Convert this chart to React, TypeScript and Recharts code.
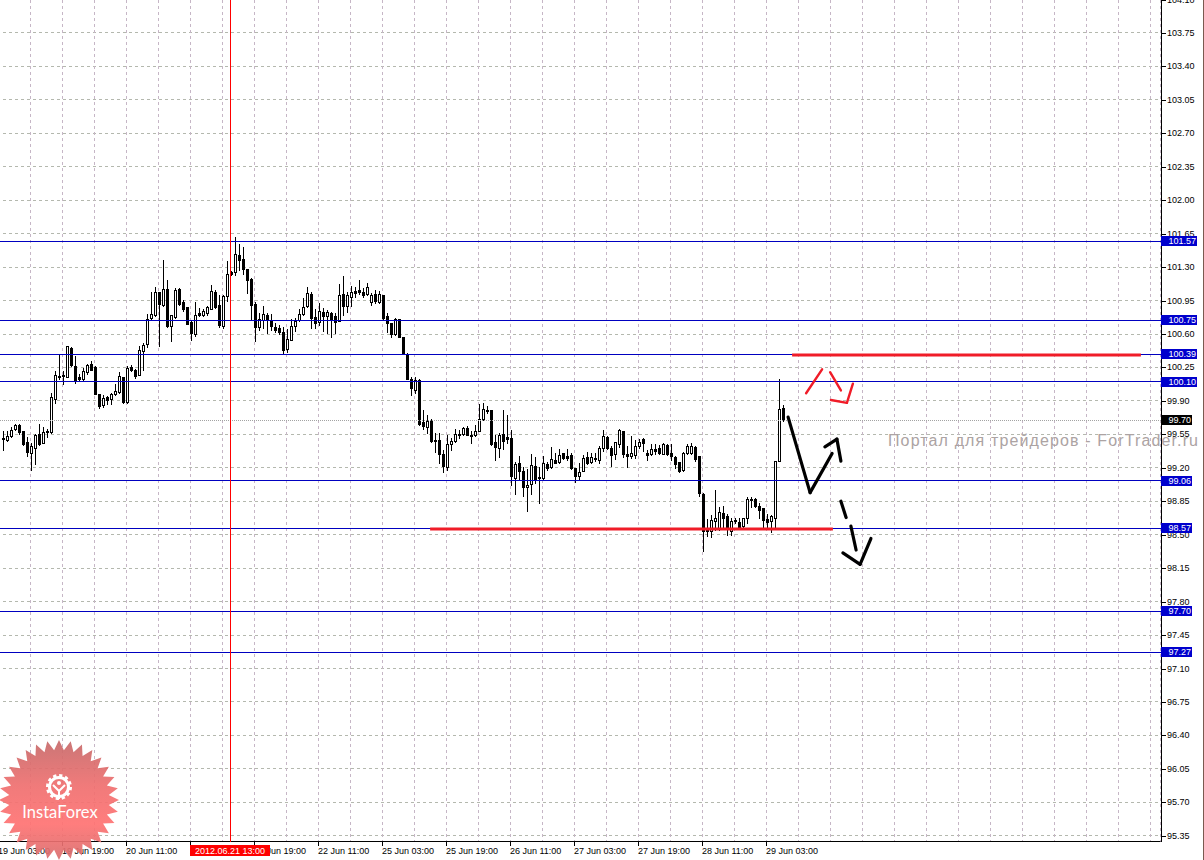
import React from "react";
import { ComposedChart, Bar, XAxis, YAxis, CartesianGrid, ReferenceLine } from "recharts";

// one price per hourly bar, oldest first (ten to a row)
const opens = [
  99.51,99.49,99.53,99.61,99.65,99.58,99.47,99.36,99.41,99.55,
  99.46,99.58,99.57,99.92,100.16,100.17,100.15,100.45,100.27,100.15,
  100.13,100.20,100.29,100.25,99.97,99.86,99.94,99.92,99.97,99.99,
  100.15,99.89,100.25,100.22,100.17,100.42,100.50,100.77,100.80,101.04,
  100.90,101.07,100.68,100.78,101.07,100.94,100.88,100.73,100.60,100.82,
  100.80,100.82,100.86,101.04,100.90,100.68,101.00,101.25,101.25,101.43,
  101.38,101.28,101.18,100.91,100.67,100.75,100.80,100.75,100.67,100.66,
  100.62,100.44,100.54,100.68,100.75,100.81,100.89,101.02,100.78,100.73,
  100.83,100.79,100.82,100.79,100.74,101.02,100.89,100.99,101.05,101.06,
  101.04,101.02,100.93,101.02,100.93,101.01,100.79,100.71,100.60,100.76,
  100.57,100.39,100.13,100.01,100.12,99.68,99.63,99.70,99.49,99.49,
  99.34,99.21,99.45,99.48,99.55,99.55,99.62,99.54,99.54,99.59,
  99.71,99.81,99.80,99.47,99.41,99.55,99.52,99.51,99.09,99.25,
  99.17,99.00,99.03,99.22,99.10,99.09,99.24,99.21,99.28,99.26,
  99.35,99.32,99.33,99.20,99.11,99.17,99.31,99.26,99.30,99.28,
  99.41,99.52,99.41,99.34,99.45,99.58,99.34,99.32,99.33,99.43,
  99.50,99.35,99.34,99.40,99.41,99.34,99.44,99.35,99.31,99.26,
  99.18,99.35,99.36,99.42,99.32,98.93,98.57,98.54,98.64,98.57,
  98.73,98.70,98.54,98.65,98.63,98.59,98.68,98.87,98.87,98.80,
  98.78,98.66,98.64,98.68,99.27,99.83,
];
const highs = [
  99.58,99.58,99.63,99.66,99.66,99.59,99.52,99.46,99.55,99.66,
  99.63,99.61,99.98,100.21,100.38,100.21,100.47,100.46,100.37,100.18,
  100.24,100.29,100.32,100.27,99.97,99.96,99.95,99.98,100.08,100.20,
  100.15,100.27,100.28,100.23,100.47,100.51,100.81,101.04,101.09,101.04,
  101.37,101.17,100.80,101.08,101.08,100.96,100.88,100.74,100.94,100.87,
  100.86,100.89,101.11,101.06,101.01,101.01,101.36,101.26,101.61,101.54,
  101.51,101.28,101.19,100.94,100.82,100.89,100.82,100.81,100.71,100.69,
  100.67,100.65,100.76,100.77,100.86,100.98,101.09,101.04,100.86,100.92,
  100.87,100.85,100.83,100.82,101.12,101.21,101.04,101.10,101.09,101.17,
  101.08,101.13,101.03,101.06,101.05,101.01,100.82,100.71,100.77,100.76,
  100.57,100.40,100.15,100.15,100.13,99.80,99.75,99.71,99.56,99.56,
  99.39,99.54,99.51,99.61,99.60,99.63,99.64,99.59,99.65,99.87,
  99.88,99.85,99.81,99.54,99.56,99.81,99.75,99.60,99.26,99.32,
  99.21,99.19,99.34,99.31,99.21,99.32,99.26,99.42,99.35,99.40,
  99.36,99.40,99.36,99.20,99.25,99.33,99.37,99.36,99.35,99.43,
  99.60,99.53,99.43,99.47,99.61,99.59,99.43,99.53,99.49,99.50,
  99.51,99.39,99.45,99.45,99.44,99.46,99.45,99.45,99.32,99.26,
  99.37,99.45,99.46,99.43,99.32,98.94,98.66,98.71,98.97,98.79,
  98.80,98.72,98.67,98.67,98.67,98.68,98.89,98.89,98.88,98.83,
  98.78,98.72,98.71,99.27,100.13,99.86,
];
const lows = [
  99.39,99.48,99.52,99.60,99.55,99.44,99.32,99.18,99.24,99.44,
  99.46,99.52,99.56,99.88,100.13,100.08,100.15,100.27,100.09,100.11,
  100.11,100.18,100.22,99.97,99.83,99.84,99.87,99.87,99.96,99.98,
  99.88,99.88,100.21,100.14,100.17,100.22,100.46,100.76,100.79,100.47,
  100.89,100.67,100.53,100.77,100.90,100.84,100.70,100.54,100.58,100.79,
  100.79,100.80,100.86,100.87,100.67,100.66,100.95,101.22,101.22,101.27,
  101.23,101.03,100.75,100.53,100.64,100.66,100.61,100.64,100.62,100.60,
  100.39,100.41,100.54,100.63,100.74,100.80,100.88,100.66,100.66,100.69,
  100.63,100.61,100.57,100.61,100.74,100.80,100.83,100.89,100.99,101.02,
  100.99,101.01,100.90,100.92,100.92,100.76,100.62,100.57,100.59,100.57,
  100.39,100.13,99.96,99.98,99.65,99.61,99.56,99.47,99.37,99.25,
  99.16,99.18,99.39,99.47,99.51,99.54,99.54,99.46,99.53,99.58,
  99.70,99.77,99.44,99.28,99.31,99.40,99.46,99.02,98.93,99.07,
  98.90,98.75,98.93,99.04,98.83,99.08,99.18,99.20,99.25,99.25,
  99.29,99.28,99.19,99.05,99.07,99.17,99.24,99.25,99.27,99.25,
  99.38,99.40,99.22,99.29,99.42,99.31,99.21,99.30,99.30,99.41,
  99.38,99.28,99.33,99.34,99.34,99.34,99.33,99.28,99.20,99.16,
  99.17,99.34,99.34,99.27,98.91,98.33,98.49,98.48,98.55,98.55,
  98.57,98.50,98.50,98.62,98.57,98.58,98.62,98.79,98.79,98.67,
  98.58,98.57,98.53,98.57,99.27,99.69,
];
const closes = [
  99.50,99.53,99.60,99.65,99.57,99.45,99.37,99.43,99.54,99.45,
  99.57,99.57,99.94,100.17,100.15,100.16,100.47,100.28,100.11,100.13,
  100.21,100.28,100.22,99.97,99.85,99.93,99.91,99.97,100.00,100.16,
  99.89,100.24,100.22,100.16,100.43,100.49,100.76,100.81,101.04,100.91,
  101.07,100.68,100.80,101.06,100.91,100.86,100.70,100.61,100.80,100.80,
  100.84,100.88,101.05,100.88,100.69,101.00,101.23,101.23,101.44,101.37,
  101.28,101.16,100.90,100.67,100.76,100.81,100.75,100.68,100.64,100.62,
  100.43,100.55,100.68,100.74,100.81,100.88,101.03,100.77,100.72,100.84,
  100.79,100.83,100.76,100.73,101.01,100.89,101.01,101.04,101.03,101.04,
  101.01,101.09,101.01,100.95,101.02,100.77,100.72,100.60,100.76,100.57,
  100.39,100.13,100.03,100.12,99.66,99.64,99.69,99.48,99.48,99.34,
  99.22,99.45,99.48,99.55,99.54,99.62,99.54,99.53,99.58,99.71,
  99.82,99.79,99.45,99.42,99.54,99.48,99.50,99.11,99.24,99.17,
  99.00,99.02,99.23,99.07,99.09,99.25,99.20,99.29,99.25,99.33,
  99.30,99.30,99.20,99.11,99.16,99.30,99.25,99.31,99.29,99.41,
  99.53,99.41,99.33,99.47,99.60,99.34,99.32,99.35,99.43,99.47,
  99.46,99.33,99.40,99.38,99.35,99.45,99.34,99.32,99.24,99.17,
  99.35,99.43,99.43,99.29,98.94,98.54,98.54,98.65,98.68,98.74,
  98.67,98.57,98.64,98.64,98.58,98.67,98.87,98.86,98.80,98.76,
  98.65,98.63,98.70,99.27,99.82,99.70,
];

const xLabels = ["19 Jun 03:00","19 Jun 19:00","20 Jun 11:00","21 Jun 03:00","21 Jun 19:00","22 Jun 11:00","25 Jun 03:00","25 Jun 19:00","26 Jun 11:00","27 Jun 03:00","27 Jun 19:00","28 Jun 11:00","29 Jun 03:00"];
const yTicks = [95.35,95.70,96.05,96.40,96.75,97.10,97.45,97.80,98.15,98.50,98.85,99.20,99.55,99.90,100.25,100.60,100.95,101.30,101.65,102.00,102.35,102.70,103.05,103.40,103.75,104.10];
const blueLevels = [101.57,100.745,100.39,100.10,99.0645,98.57,97.70,97.27];
const bidPrice = 99.70;
const cursorBar = 58;
const cursorLabel = "2012.06.21 13:00";
const watermark = "Портал для трейдеров - ForTrader.ru";
const logoText = "InstaForex";

// hand-drawn annotations: [bar position, price] vertices
const thickRedLevels = [
  [[198.4,100.38],[285.6,100.38]],
  [[107.9,98.56],[208.6,98.56]],
];
const blackStrokes = [
  [[197.4,99.73],[202.9,98.94],[208.4,99.35]],
  [[206.6,99.42],[209.6,99.50],[210.6,99.27]],
  [[210.6,98.85],[211.9,98.68]],
  [[213.1,98.59],[214.4,98.34]],
  [[211.1,98.31],[215.4,98.19],[218.1,98.46]],
];
const redStrokes = [
  [[201.9,99.98],[205.9,100.23]],
  [[207.9,100.20],[210.6,100.01]],
  [[208.1,99.91],[212.1,99.88],[213.6,100.08]],
];

const SLOTS = 291;
const table = Array.from({ length: SLOTS }, (_, i) => {
  const k = i - 1;
  return k >= 0 && k < opens.length
    ? { i, o: opens[k], h: highs[k], l: lows[k], c: closes[k] }
    : { i };
});
const gridBars = table.filter((r) => r.i % 8 === 0).map((r) => r.i);

const FONT = "'Liberation Sans', Arial, sans-serif";

function Candle(props: any) {
  const { x, y, width, height, payload } = props;
  if (payload == null || payload.o == null || height == null) return null;
  const { o, h, l, c } = payload;
  const at = (p: number) => y + ((h - p) / (h - l)) * height;
  const cx = Math.floor(x + width / 2);
  const top = Math.round(at(Math.max(o, c)));
  const bot = Math.round(at(Math.min(o, c)));
  const hi = Math.round(at(h));
  const lo = Math.round(at(l));
  const up = c > o;
  return (
    <g shapeRendering="crispEdges">
      <rect x={cx} y={hi} width={1} height={Math.max(lo - hi + 1, 1)} fill="#000" />
      <rect x={cx - 1} y={top} width={3} height={Math.max(bot - top + 1, 2)} fill="#000" />
      {up && bot - top >= 2 ? <rect x={cx} y={top + 1} width={1} height={bot - top - 1} fill="#fff" /> : null}
    </g>
  );
}

function YTick(props: any) {
  const { x, y, payload } = props;
  const ry = Math.round(y);
  return (
    <g>
      <rect x={Math.round(x) + 1} y={ry} width={4} height={1} fill="#000" shapeRendering="crispEdges" />
      <text x={x + 6.5} y={ry + 3} fontFamily={FONT} fontSize={9} fill="#000">{Number(payload.value).toFixed(2)}</text>
    </g>
  );
}

function XTick(props: any) {
  const { x, y, payload } = props;
  const i = payload.value;
  if (i % 16 !== 0 || xLabels[i / 16] == null) return null;
  return (
    <g>
      <rect x={Math.floor(x)} y={Math.round(y)} width={1} height={4} fill="#000" shapeRendering="crispEdges" />
      <text x={x - 0.5} y={Math.round(y) + 12} fontFamily={FONT} fontSize={9} fill="#000">{xLabels[i / 16]}</text>
    </g>
  );
}

function PriceTag(props: any) {
  const { viewBox, price, bg } = props;
  const text = price.toFixed(2);
  const w = text.length > 5 ? 36 : 31;
  const left = viewBox.x + viewBox.width + 0.5;
  const cy = Math.round(viewBox.y);
  return (
    <g>
      <rect x={Math.round(left)} y={cy - 5} width={w} height={10} fill={bg} shapeRendering="crispEdges" />
      <text x={left + 7.5} y={cy + 3} fontFamily={FONT} fontSize={9} fill="#fff">{text}</text>
    </g>
  );
}

function CursorTag(props: any) {
  const { viewBox } = props;
  const cx = Math.floor(viewBox.x);
  const yTop = viewBox.y + viewBox.height + 3;
  return (
    <g>
      <rect x={cx - 40} y={yTop} width={80} height={11} fill="#ff0000" shapeRendering="crispEdges" />
      <text x={cx} y={yTop + 9} textAnchor="middle" fontFamily={FONT} fontSize={9} fill="#fff">{cursorLabel}</text>
    </g>
  );
}

function segments(strokes: number[][][]) {
  const out: number[][][] = [];
  strokes.forEach((s) => {
    for (let n = 0; n + 1 < s.length; n++) out.push([s[n], s[n + 1]]);
  });
  return out;
}

function Logo() {
  const cx = 59, cy = 800, R = 60, r = 50, N = 32;
  const pts: string[] = [];
  for (let n = 0; n < N * 2; n++) {
    const a = (Math.PI * n) / N - Math.PI / 2;
    const q = n % 2 === 0 ? R : r;
    pts.push(`${cx + q * Math.cos(a)},${cy + q * Math.sin(a)}`);
  }
  return (
    <svg width={1204} height={860} style={{ position: "absolute", left: 0, top: 0, pointerEvents: "none" }}>
      <defs>
        <linearGradient id="logoFill" x1="0" y1="0" x2="0" y2="1">
          <stop offset="0" stopColor="#c66a6a" stopOpacity={0.92} />
          <stop offset="0.38" stopColor="#ef6f6f" stopOpacity={0.92} />
          <stop offset="0.7" stopColor="#ff7272" stopOpacity={0.92} />
          <stop offset="1" stopColor="#d86e6e" stopOpacity={0.92} />
        </linearGradient>
      </defs>
      <polygon points={pts.join(" ")} fill="url(#logoFill)" />
      <circle cx={59} cy={787} r={9.5} fill="none" stroke="#fff" strokeWidth={3} />
      <circle cx={59} cy={787} r={11.5} fill="none" stroke="#fff" strokeWidth={3} strokeDasharray="3.2 2.8" />
      <circle cx={59} cy={783} r={2} fill="#fff" />
      <path d="M53 785 L59 791 L65 785 M59 790 L59 799" fill="none" stroke="#fff" strokeWidth={2} />
      <text x={60} y={818} textAnchor="middle" fontFamily="Lato, 'Open Sans', sans-serif" fontSize={16.5} fill="#fff">{logoText}</text>
    </svg>
  );
}

export default function App() {
  return (
    <div style={{ position: "fixed", left: 0, top: 0, width: 1204, height: 860, overflow: "hidden", background: "#fff" }}>
      <div style={{ position: "absolute", left: -4, top: -1 }}>
        <ComposedChart
          width={1208}
          height={861}
          data={table}
          margin={{ top: 0.5, right: 0, bottom: 0, left: 0.5 }}
          barCategoryGap={0}
        >
          <CartesianGrid horizontal={true} vertical={false} stroke="#b4b8ae" strokeDasharray="3 3" shapeRendering="crispEdges" />
          <CartesianGrid horizontal={false} vertical={true} stroke="#c6b6c6" strokeDasharray="3 3" shapeRendering="crispEdges" />
          <XAxis dataKey="i" type="category" ticks={gridBars} interval={0} height={18.5} tickSize={0} tickMargin={0} tickLine={false} stroke="#000" tick={<XTick />} />
          <XAxis xAxisId="n" dataKey="i" type="number" domain={[-0.5, SLOTS - 0.5]} hide allowDataOverflow />
          <YAxis orientation="right" width={43.5} domain={[95.29, 104.1]} ticks={yTicks} interval={0} allowDataOverflow axisLine={false} tickLine={false} tickSize={0} tickMargin={0} tick={<YTick />} />

          <Bar dataKey={(d: any) => (d.o == null ? null : [d.l, d.h])} barSize={3} shape={<Candle />} isAnimationActive={false} />

          <ReferenceLine y={bidPrice} zIndex={3000} stroke="#a3a3a3" strokeDasharray="1 1" shapeRendering="crispEdges" label={<PriceTag price={bidPrice} bg="#000" />} />
          {blueLevels.map((p) => (
            <ReferenceLine key={p} y={p} zIndex={3000} stroke="#0000c0" shapeRendering="crispEdges" label={<PriceTag price={p} bg="#0000cd" />} />
          ))}
          <ReferenceLine xAxisId="n" x={cursorBar} zIndex={3000} stroke="#ff0000" shapeRendering="crispEdges" label={<CursorTag />} />
          <ReferenceLine xAxisId="n" x={290.75} stroke="#000" ifOverflow="visible" shapeRendering="crispEdges" />

          {thickRedLevels.map((s, n) => (
            <ReferenceLine key={"rl" + n} zIndex={3100} xAxisId="n" ifOverflow="visible" segment={[{ x: s[0][0], y: s[0][1] }, { x: s[1][0], y: s[1][1] }]} stroke="#f01c28" strokeWidth={3} />
          ))}
          {segments(blackStrokes).map((s, n) => (
            <ReferenceLine key={"bk" + n} zIndex={3100} xAxisId="n" ifOverflow="visible" segment={[{ x: s[0][0], y: s[0][1] }, { x: s[1][0], y: s[1][1] }]} stroke="#000" strokeWidth={3.2} strokeLinecap="round" />
          ))}
          {segments(redStrokes).map((s, n) => (
            <ReferenceLine key={"rd" + n} zIndex={3100} xAxisId="n" ifOverflow="visible" segment={[{ x: s[0][0], y: s[0][1] }, { x: s[1][0], y: s[1][1] }]} stroke="#f01c28" strokeWidth={2.4} strokeLinecap="round" />
          ))}
        </ComposedChart>
      </div>
      <svg width={1204} height={860} style={{ position: "absolute", left: 0, top: 0, pointerEvents: "none" }}>
        <text x={888} y={446} fontFamily={FONT} fontSize={16} fill="#aca3a3" textLength={310} lengthAdjust="spacing">{watermark}</text>
        <rect x={1203} y={0} width={1} height={860} fill="#7a5a50" />
      </svg>
      <Logo />
    </div>
  );
}
